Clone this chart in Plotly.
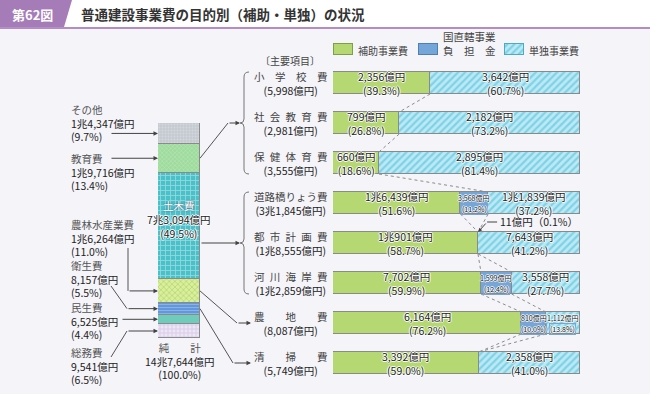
import plotly.graph_objects as go

# ---------------- data ----------------
stack_names = ["総務費", "民生費", "衛生費", "農林水産業費", "土木費", "教育費", "その他"]
stack_amounts = ["9,541億円", "6,525億円", "8,157億円", "1兆6,264億円", "7兆3,094億円", "1兆9,716億円", "1兆4,347億円"]
stack_pct = [6.5, 4.4, 5.5, 11.0, 49.5, 13.4, 9.7]
total_label = ["純　　計", "14兆7,644億円", "(100.0%)"]

items = ["小学校費", "社会教育費", "保健体育費", "道路橋りょう費", "都市計画費", "河川海岸費", "農地費", "清掃費"]
item_totals = ["(5,998億円)", "(2,981億円)", "(3,555億円)", "(3兆1,845億円)", "(1兆8,555億円)",
               "(1兆2,859億円)", "(8,087億円)", "(5,749億円)"]
hojo_pct = [39.3, 26.8, 18.6, 51.6, 58.7, 59.9, 76.2, 59.0]
chokkatsu_pct = [0, 0, 0, 11.2, 0.1, 12.4, 10.0, 0]
tandoku_pct = [60.7, 73.2, 81.4, 37.2, 41.2, 27.7, 13.8, 41.0]
hojo_amt = ["2,356億円", "799億円", "660億円", "1兆6,439億円", "1兆901億円", "7,702億円", "6,164億円", "3,392億円"]
chokkatsu_amt = ["", "", "", "3,568億円", "11億円", "1,599億円", "810億円", ""]
tandoku_amt = ["3,642億円", "2,182億円", "2,895億円", "1兆1,839億円", "7,643億円", "3,558億円", "1,112億円", "2,358億円"]

legend_labels = ["補助事業費", "国直轄事業<br>負　担　金", "単独事業費"]
title_no = "第62図"
title_text = "普通建設事業費の目的別（補助・単独）の状況"
sub_header = "〔主要項目〕"

# ---------------- styles ----------------
W, H = 650, 394
FONT = "Noto Sans CJK JP, Noto Sans, sans-serif"
BG = "#f4f4f9"
GREEN = "#b6d873"
BLUE = "#74a6da"
HATCH = dict(shape="/", fgcolor="#3fbcd9", bgcolor="#bde9f4", size=5, solidity=0.45)
EDGE = "#8a8a8a"
HALO = "1px 0px 0px #fff, -1px 0px 0px #fff, 0px 1px 0px #fff, 0px -1px 0px #fff"

stack_styles = [
    dict(color="#e6dcf0", pattern=dict(shape="+", fgcolor="#b9a0d4", bgcolor="#ede6f5", size=4, solidity=0.3)),
    dict(color="#6fcbbb"),
    dict(color="#6d9fe0", pattern=dict(shape="-", fgcolor="#b8d2f4", bgcolor="#5f93da", size=3, solidity=0.4)),
    dict(color="#c6e27a", pattern=dict(shape="x", fgcolor="#93c23c", bgcolor="#d9ee9e", size=4, solidity=0.35)),
    dict(color="#55c5cd", pattern=dict(shape="+", fgcolor="#d8f6f6", bgcolor="#4cc0c9", size=5, solidity=0.3)),
    dict(color="#a7e0a6", pattern=dict(shape="x", fgcolor="#dcf5d8", bgcolor="#9edb9d", size=3, solidity=0.3)),
    dict(color="#c8ced4", pattern=dict(shape=".", fgcolor="#e2e6ea", bgcolor="#c4cad0", size=3, solidity=0.3)),
]

# pixel geometry of panels
RX0, RX1 = 333, 580          # right bar panel
RY0, RY1 = 63, 383
LX0, LX1 = 158, 200          # left stacked bar
LY0, LY1 = 123, 338
BAR_W = 0.55

def px_right(v):
    return RX0 + v / 100 * (RX1 - RX0)

def row_y(i):
    return RY0 + (i + 0.5) * (RY1 - RY0) / len(items)

def stack_y(v):
    return LY1 - v / 100 * (LY1 - LY0)

fig = go.Figure()

rows = list(range(len(items)))
fig.add_trace(go.Bar(y=rows, x=hojo_pct, orientation="h", width=BAR_W, xaxis="x", yaxis="y",
                     marker=dict(color=GREEN, line=dict(color=EDGE, width=1)), hoverinfo="skip"))
fig.add_trace(go.Bar(y=rows, x=[v if v else None for v in chokkatsu_pct], orientation="h", width=BAR_W,
                     xaxis="x", yaxis="y", marker=dict(color=BLUE, line=dict(color=EDGE, width=1)), hoverinfo="skip"))
fig.add_trace(go.Bar(y=rows, x=tandoku_pct, orientation="h", width=BAR_W, xaxis="x", yaxis="y",
                     marker=dict(color="#bde9f4", pattern=HATCH, line=dict(color=EDGE, width=1)), hoverinfo="skip"))

for name, pct, st in zip(stack_names, stack_pct, stack_styles):
    fig.add_trace(go.Bar(x=[0], y=[pct], width=1, xaxis="x2", yaxis="y2",
                         marker=dict(line=dict(color=EDGE, width=1), **st), hoverinfo="skip", name=name))

# legend boxes as bars on the pixel overlay axes
leg_x = [334, 419, 505]
leg_styles = [dict(color=GREEN, line=dict(color="#7f9e4a", width=1)),
              dict(color=BLUE, line=dict(color="#4f7fb5", width=1)),
              dict(color="#bde9f4", pattern=HATCH, line=dict(color="#4fa9c4", width=1))]
for lx, st in zip(leg_x, leg_styles):
    fig.add_trace(go.Bar(x=[19], base=[lx], y=[49.5], width=[11], orientation="h", xaxis="x3", yaxis="y3",
                         marker=st, hoverinfo="skip"))

annotations = []
shapes = []

def T(x, y, text, size=11, color="#222", anchor="center", xref="x3", yref="y3", shadow=None, **kw):
    f = dict(family=FONT, size=size, color=color)
    if shadow:
        f["shadow"] = shadow
    d = dict(x=x, y=y, text=text, xref=xref, yref=yref, showarrow=False, xanchor=anchor, yanchor="middle",
             font=f, borderpad=0)
    d.update(kw)
    annotations.append(d)

def L(x0, y0, x1, y1, color="#555", width=1, dash=None, xref="x3", yref="y3"):
    ln = dict(color=color, width=width)
    if dash:
        ln["dash"] = dash
    shapes.append(dict(type="line", x0=x0, y0=y0, x1=x1, y1=y1, xref=xref, yref=yref, line=ln))

def ARROW(x, y, fromx, fromy):
    annotations.append(dict(x=x, y=y, ax=fromx, ay=fromy, xref="x3", yref="y3", axref="x3", ayref="y3",
                            text="", showarrow=True, arrowhead=2, arrowsize=0.9, arrowwidth=1,
                            arrowcolor="#444", standoff=0, startstandoff=0))

# ---------------- header ----------------
shapes.append(dict(type="rect", x0=0, y0=0, x1=W, y1=27, xref="x3", yref="y3",
                   fillcolor="#ffffff", line=dict(width=0), layer="below"))
shapes.append(dict(type="path", path="M0,0 L72,0 L64,27 L0,27 Z", xref="x3", yref="y3",
                   fillcolor="#a57bb8", line=dict(width=0)))
L(0, 28, W, 28, color="#b48dc6", width=2)
T(32, 14, f"<b>{title_no}</b>", size=13, color="#ffffff")
T(80, 14, f"<b>{title_text}</b>", size=13.5, color="#333", anchor="left")

# ---------------- legend text ----------------
T(357, 50, legend_labels[0], size=10, color="#444", anchor="left")
T(442, 43, legend_labels[1], size=10.5, color="#444", anchor="left")
T(528, 50, legend_labels[2], size=10, color="#444", anchor="left")

# ---------------- right panel labels ----------------
T(290, 60.5, sub_header, size=10, color="#444")

def spread(nm):
    n = len(nm)
    if n <= 3:
        sep = "\u3000\u3000"
    elif n == 4:
        sep = "\u3000"
    elif n == 5:
        sep = "\u2002"
    else:
        sep = ""
    return sep.join(nm)

for i, (nm, tot) in enumerate(zip(items, item_totals)):
    yc = row_y(i)
    T(291, yc, f"<span style='color:#444'>{spread(nm)}</span><br>{tot}", size=10.5, color="#222")

    g, b, t = hojo_pct[i], chokkatsu_pct[i], tandoku_pct[i]
    segs = [(g / 2, hojo_amt[i], g), (g + b / 2, chokkatsu_amt[i], b), (g + b + t / 2, tandoku_amt[i], t)]
    for mid, amt, p in segs:
        if p < 1:
            continue
        if p < 15:
            T(mid, i, amt, size=7, xref="x", yref="y", yshift=5.5, shadow=HALO)
            T(mid, i, f"({p:.1f}%)", size=7, xref="x", yref="y", yshift=-5.5, shadow=HALO,
              bordercolor="#7fa3cc", borderwidth=1)
        else:
            T(mid, i, f"{amt}<br>({p:.1f}%)", size=10.5, xref="x", yref="y", shadow=HALO)

# tiny 0.1% segment callout (都市計画費)
ci = 4
cmid = hojo_pct[ci] + chokkatsu_pct[ci] / 2
annotations.append(dict(x=cmid, y=ci - BAR_W / 2, xref="x", yref="y", ax=9, ay=-10, axref="pixel", ayref="pixel",
                        text="", showarrow=True, arrowhead=2, arrowsize=0.8, arrowwidth=1, arrowcolor="#444",
                        standoff=0))
L(px_right(cmid) + 9, row_y(ci) - 21, px_right(cmid) + 19, row_y(ci) - 21, color="#444")
T(px_right(cmid) + 21, row_y(ci) - 21.5, f"{chokkatsu_amt[ci]}（{chokkatsu_pct[ci]:.1f}%）", size=10.5,
  color="#222", anchor="left")

# dotted connectors between consecutive bars
for i in range(len(items) - 1):
    up_g = hojo_pct[i]; up_b = hojo_pct[i] + chokkatsu_pct[i]
    lo_g = hojo_pct[i + 1]; lo_b = hojo_pct[i + 1] + chokkatsu_pct[i + 1]
    y0 = i + BAR_W / 2; y1 = i + 1 - BAR_W / 2
    up_has = chokkatsu_pct[i] > 0; lo_has = chokkatsu_pct[i + 1] > 0
    if up_has and lo_has:
        pairs = [(up_g, lo_g), (up_b, lo_b)]
    elif up_has:
        pairs = [(up_g, lo_g), (up_b, lo_g)]
    elif lo_has:
        pairs = [(up_g, lo_b)]
    else:
        pairs = [(up_g, lo_g)]
    for a, c in pairs:
        L(a, y0, c, y1, color="#8c8c8c", dash="dot", xref="x", yref="y")

# ---------------- braces ----------------
def brace(yt, yb, ym, xs=244, xe=249, xt=240):
    p = (f"M{xe},{yt} Q{xs},{yt} {xs},{yt+5} L{xs},{ym-4} Q{xs},{ym} {xt},{ym} "
         f"Q{xs},{ym} {xs},{ym+4} L{xs},{yb-5} Q{xs},{yb} {xe},{yb}")
    shapes.append(dict(type="path", path=p, xref="x3", yref="y3", line=dict(color="#777", width=1)))

half = BAR_W / 2 * (RY1 - RY0) / len(items)
brace(row_y(0) - half, row_y(2) + half, row_y(1))
brace(row_y(3) - half, row_y(5) + half, row_y(4))

# ---------------- left stacked bar labels ----------------
cum = [0]
for p in stack_pct:
    cum.append(cum[-1] + p)
mids = [stack_y((cum[k] + cum[k + 1]) / 2) for k in range(len(stack_pct))]

def left_label(k, ymid):
    T(70, ymid, f"<span style='color:#555'>{stack_names[k]}</span><br>{stack_amounts[k]}<br>({stack_pct[k]:.1f}%)",
      size=10.5, color="#222", anchor="left", align="left")

left_label(6, 123)
left_label(5, 172)
left_label(3, 237.5)
left_label(2, 279)
left_label(1, 320.5)
left_label(0, 366)

# arrows into left edge of bar
ARROW(LX0, mids[6], 110, mids[6])
ARROW(LX0, mids[5], 110, mids[5])
L(128, 248, 128, mids[3]); ARROW(LX0, mids[3], 128, mids[3])
L(111, 286, 127, mids[2]); ARROW(LX0, mids[2], 127, mids[2])
ARROW(LX0, mids[1], 121, mids[1])
L(111, 357, 127, mids[0]); ARROW(LX0, mids[0], 127, mids[0])

# arrows from right edge of bar to the item groups
L(LX1, mids[5], 228, row_y(1)); ARROW(240, row_y(1), 228, row_y(1))
ARROW(240, row_y(4), LX1, row_y(4))
L(LX1, mids[3], 237, row_y(6)); ARROW(251, row_y(6), 237, row_y(6))
L(LX1, mids[2], 233, row_y(7)); ARROW(251, row_y(7), 233, row_y(7))

# 土木費 label inside bar
dm = mids[4]
T(179, dm - 20, stack_names[4], size=10.5, color="#ffffff", shadow="0px 0px 2px #335")
T(179, dm + 1, f"{stack_amounts[4]}<br>({stack_pct[4]:.1f}%)", size=10.5, color="#222", shadow=HALO)

# total under bar
T(179, 361, f"<span style='color:#555'>{total_label[0]}</span><br>{total_label[1]}<br>{total_label[2]}",
  size=10.5, color="#222")

# ---------------- layout ----------------
fig.update_layout(
    width=W, height=H, margin=dict(l=0, r=0, t=0, b=0),
    paper_bgcolor=BG, plot_bgcolor="rgba(0,0,0,0)",
    barmode="stack", bargap=0, showlegend=False,
    font=dict(family=FONT),
    xaxis=dict(domain=[RX0 / W, RX1 / W], range=[0, 100], visible=False, anchor="y", fixedrange=True),
    yaxis=dict(domain=[1 - RY1 / H, 1 - RY0 / H], range=[len(items) - 0.5, -0.5], visible=False, anchor="x", fixedrange=True),
    xaxis2=dict(domain=[LX0 / W, LX1 / W], range=[-0.5, 0.5], visible=False, anchor="y2", fixedrange=True),
    yaxis2=dict(domain=[1 - LY1 / H, 1 - LY0 / H], range=[0, 100], visible=False, anchor="x2", fixedrange=True),
    xaxis3=dict(domain=[0, 1], range=[0, W], visible=False, anchor="y3", fixedrange=True),
    yaxis3=dict(domain=[0, 1], range=[H, 0], visible=False, anchor="x3", fixedrange=True),
    annotations=annotations, shapes=shapes,
)

fig.write_html("out.html", config={"displayModeBar": False},
               post_script="document.body.style.margin='0';document.body.style.background='" + BG + "';")
